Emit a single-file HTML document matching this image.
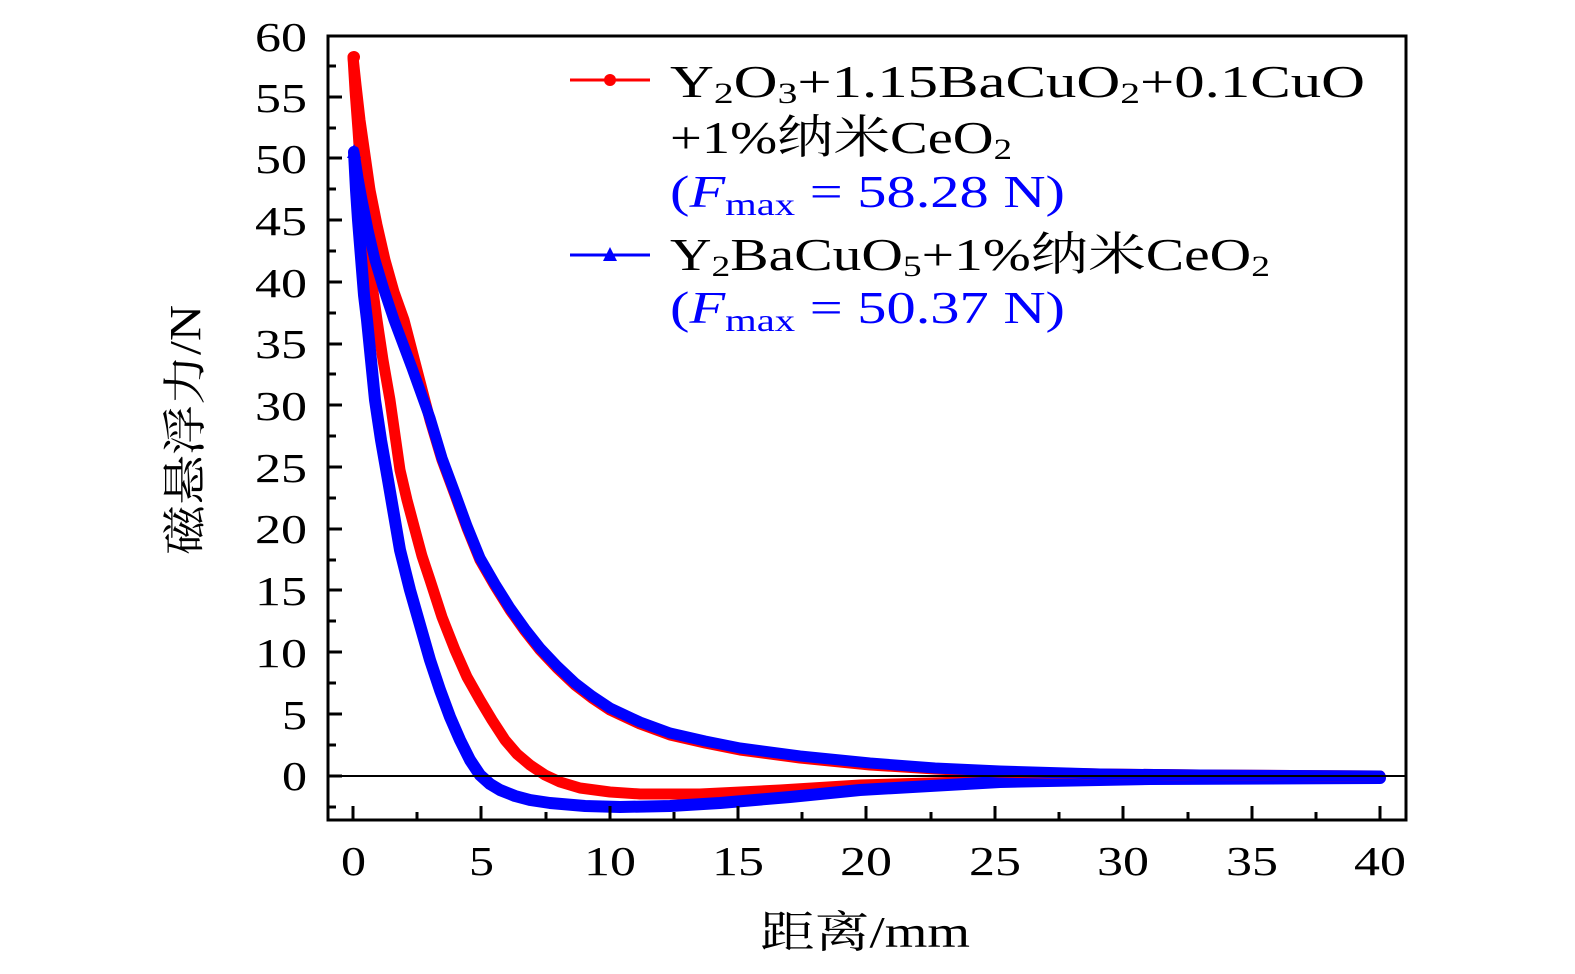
<!DOCTYPE html>
<html><head><meta charset="utf-8"><style>html,body{margin:0;padding:0;background:#fff}svg{display:block}</style></head>
<body>
<svg width="1575" height="974" viewBox="0 0 1575 974" xmlns="http://www.w3.org/2000/svg" font-family="'Liberation Serif','Noto Serif CJK SC',serif">
<g fill="none" stroke-linecap="round" stroke-linejoin="round">
<polyline stroke="#f00" stroke-width="11" points="353,57 355,90 358,130 361,175 365,220 370,270 377,320 383,360 390,400 395,435 400,470 407,500 415,530 422,556 430,580 442,617 455,650 467,677 480,700 492,720 505,740 517,754 530,765 545,775 560,782 580,788 610,792 640,794 700,794 780,790 860,785 1000,781 1100,779 1380,777"/>
<polyline stroke="#00f" stroke-width="12" points="354,152 356,190 358,220 360,245 362,270 364,295 367,320 371,360 375,400 381,440 388,480 394,515 400,550 410,590 420,625 430,660 440,690 450,717 460,740 470,760 480,775 490,784 500,790 515,796 530,800 550,803 585,806 620,807 670,806 720,803 790,797 860,790 930,786 1000,782 1150,779 1380,778"/>
<polyline stroke="#f00" stroke-width="11" points="353,57 356,85 360,120 365,155 370,190 377,225 385,260 394,292 404,320 417,370 430,420 442,460 455,495 467,528 480,560 495,586 510,610 525,631 540,650 557,668 575,685 592,698 610,710 640,724 670,735 705,743 740,750 800,758 870,765 935,769 1000,772 1100,774 1200,775 1380,776"/>
<polyline stroke="#00f" stroke-width="11" points="354,152 358,178 362,200 368,230 375,260 384,290 394,320 412,368 430,418 442,458 455,493 467,526 480,558 495,584 510,608 525,629 540,648 557,666 575,683 592,696 610,708 640,722 670,733 705,741 740,748 800,756 870,763 935,768 1000,771 1100,774 1200,775 1380,776"/>
</g>
<circle cx="354" cy="57" r="6" fill="#f00"/>
<polygon points="354,144 347,158 361,158" fill="#00f"/>
<line x1="327" y1="776" x2="1406" y2="776" stroke="#000" stroke-width="2"/>
<rect x="328" y="36" width="1078" height="784" fill="none" stroke="#000" stroke-width="3"/>
<g stroke="#000" stroke-width="3">
<path d="M353,820v-14M417,820v-8M481,820v-14M546,820v-8M610,820v-14M674,820v-8M738,820v-14M802,820v-8M866,820v-14M931,820v-8M995,820v-14M1059,820v-8M1123,820v-14M1188,820v-8M1252,820v-14M1316,820v-8M1380,820v-14"/>
<path d="M328,807h8M328,776h14M328,745h8M328,714h14M328,683h8M328,652h14M328,621h8M328,590h14M328,560h8M328,529h14M328,498h8M328,467h14M328,436h8M328,405h14M328,374h8M328,344h14M328,313h8M328,282h14M328,251h8M328,220h14M328,189h8M328,158h14M328,128h8M328,97h14M328,66h8M328,36h14"/>
</g>
<g font-size="41" fill="#000">
<text x="282" y="790" textLength="25" lengthAdjust="spacingAndGlyphs">0</text><text x="282" y="729" textLength="25" lengthAdjust="spacingAndGlyphs">5</text>
<text x="255" y="667" textLength="52" lengthAdjust="spacingAndGlyphs">10</text><text x="255" y="605" textLength="52" lengthAdjust="spacingAndGlyphs">15</text><text x="255" y="543" textLength="52" lengthAdjust="spacingAndGlyphs">20</text><text x="255" y="482" textLength="52" lengthAdjust="spacingAndGlyphs">25</text><text x="255" y="420" textLength="52" lengthAdjust="spacingAndGlyphs">30</text><text x="255" y="358" textLength="52" lengthAdjust="spacingAndGlyphs">35</text><text x="255" y="297" textLength="52" lengthAdjust="spacingAndGlyphs">40</text><text x="255" y="235" textLength="52" lengthAdjust="spacingAndGlyphs">45</text><text x="255" y="173" textLength="52" lengthAdjust="spacingAndGlyphs">50</text><text x="255" y="112" textLength="52" lengthAdjust="spacingAndGlyphs">55</text><text x="255" y="51" textLength="52" lengthAdjust="spacingAndGlyphs">60</text>
</g>
<g font-size="41" fill="#000">
<text x="341" y="875" textLength="25" lengthAdjust="spacingAndGlyphs">0</text><text x="469" y="875" textLength="25" lengthAdjust="spacingAndGlyphs">5</text>
<text x="584" y="875" textLength="52" lengthAdjust="spacingAndGlyphs">10</text><text x="712" y="875" textLength="52" lengthAdjust="spacingAndGlyphs">15</text><text x="840" y="875" textLength="52" lengthAdjust="spacingAndGlyphs">20</text><text x="969" y="875" textLength="52" lengthAdjust="spacingAndGlyphs">25</text><text x="1097" y="875" textLength="52" lengthAdjust="spacingAndGlyphs">30</text><text x="1226" y="875" textLength="52" lengthAdjust="spacingAndGlyphs">35</text><text x="1354" y="875" textLength="52" lengthAdjust="spacingAndGlyphs">40</text>
<text x="760" y="947" font-size="44" textLength="210" lengthAdjust="spacingAndGlyphs">距离/mm</text>
<text transform="translate(200,555) rotate(-90)" font-size="44" textLength="250" lengthAdjust="spacingAndGlyphs">磁悬浮力/N</text>
</g>
<line x1="570" y1="80" x2="650" y2="80" stroke="#f00" stroke-width="3"/><circle cx="610" cy="80" r="6" fill="#f00"/>
<line x1="570" y1="255" x2="650" y2="255" stroke="#00f" stroke-width="3"/><polygon points="610,247 603,261 617,261" fill="#00f"/>
<g font-size="46" fill="#000">
<text x="670" y="97" textLength="695" lengthAdjust="spacingAndGlyphs">Y<tspan font-size="30" dy="6">2</tspan><tspan dy="-6">O</tspan><tspan font-size="30" dy="6">3</tspan><tspan dy="-6">+1.15BaCuO</tspan><tspan font-size="30" dy="6">2</tspan><tspan dy="-6">+0.1CuO</tspan></text>
<text x="670" y="153" textLength="342" lengthAdjust="spacingAndGlyphs">+1%纳米CeO<tspan font-size="30" dy="6">2</tspan></text>
<text x="670" y="270" textLength="600" lengthAdjust="spacingAndGlyphs">Y<tspan font-size="30" dy="6">2</tspan><tspan dy="-6">BaCuO</tspan><tspan font-size="30" dy="6">5</tspan><tspan dy="-6">+1%纳米CeO</tspan><tspan font-size="30" dy="6">2</tspan></text>
</g>
<g font-size="46" fill="#00f">
<text x="670" y="207" textLength="395" lengthAdjust="spacingAndGlyphs">(<tspan font-style="italic">F</tspan><tspan font-size="32" dy="8">max</tspan><tspan dy="-8"> = 58.28 N)</tspan></text>
<text x="670" y="323" textLength="395" lengthAdjust="spacingAndGlyphs">(<tspan font-style="italic">F</tspan><tspan font-size="32" dy="8">max</tspan><tspan dy="-8"> = 50.37 N)</tspan></text>
</g>
</svg>
</body></html>
